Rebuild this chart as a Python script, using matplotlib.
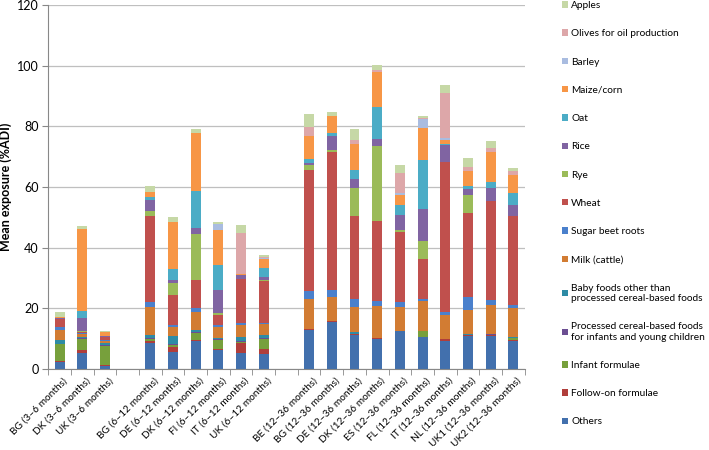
import numpy as np
import matplotlib
matplotlib.use('Agg')
import matplotlib.pyplot as plt

plt.rcParams['font.family'] = ['Lato', 'DejaVu Sans']

# Bars (x labels); None marks an empty slot between age groups
labels = ['BG (3–6 months)', 'DK (3–6 months)', 'UK (3–6 months)', None,
          'BG (6–12 months)', 'DE (6–12 months)', 'DK (6–12 months)', 'FI (6–12 months)',
          'IT (6–12 months)', 'UK (6–12 months)', None,
          'BE (12–36 months)', 'BG (12–36 months)', 'DE (12–36 months)', 'DK (12–36 months)',
          'ES (12–36 months)', 'FL (12–36 months)', 'IT (12–36 months)', 'NL (12–36 months)',
          'UK1 (12–36 months)', 'UK2 (12–36 months)']

# Series, bottom to top of the stack (values per bar, %ADI)
others = [2.2, 5.2, 1.1, 8.7, 5.6, 9.1, 6.1, 5.4, 4.9, 13.0, 15.4, 11.3, 9.9, 12.4, 10.5, 9.3, 11.0, 11.0, 9.1]
follow_on = [0.4, 0.9, 0.3, 0.5, 1.8, 0.5, 0.5, 3.3, 1.7, 0.2, 0.3, 0.2, 0.2, 0.2, 0.2, 0.6, 0.2, 0.3, 0.5]
infant = [5.5, 3.7, 6.3, 0.6, 0.6, 2.2, 3.0, 0.2, 3.2, 0, 0, 0, 0, 0, 1.7, 0, 0, 0, 0.5]
processed = [0.3, 0.4, 0.3, 0.4, 0.3, 0.4, 0.2, 0.2, 0.3, 0, 0, 0, 0, 0, 0, 0, 0, 0.2, 0.2]
baby_foods = [1.1, 0.5, 0.5, 1.1, 2.7, 0.7, 0.4, 1.3, 1.0, 0, 0, 0.6, 0, 0, 0, 0, 0.2, 0.2, 0.4]
milk = [3.3, 0.9, 0.6, 9.2, 2.7, 6.0, 3.8, 4.0, 3.6, 10.0, 8.0, 8.3, 10.6, 7.8, 9.9, 8.0, 8.1, 9.3, 9.3]
sugar_beet = [0.9, 0.4, 0.5, 1.7, 0.7, 1.1, 0.5, 0.8, 0.6, 2.6, 2.2, 2.8, 1.6, 1.6, 0.9, 0.9, 4.3, 1.8, 1.1]
wheat = [2.8, 0.3, 0.8, 28.1, 10.0, 9.5, 3.3, 14.6, 13.7, 39.9, 45.5, 27.3, 26.4, 23.1, 13.2, 49.3, 27.6, 32.7, 29.4]
rye = [0, 0.3, 0, 1.7, 4.0, 15.1, 0.8, 0, 0.2, 1.4, 0.9, 9.0, 24.7, 0.8, 5.7, 0, 6.1, 0, 0]
rice = [0.3, 4.2, 0.4, 3.7, 1.1, 2.0, 7.4, 1.2, 1.2, 0.9, 4.4, 3.2, 2.5, 5.0, 10.6, 5.9, 1.8, 4.0, 3.5]
oat = [0, 2.2, 0.2, 1.1, 3.6, 12.2, 8.2, 0, 3.0, 1.3, 1.1, 3.0, 10.5, 3.3, 16.3, 0.2, 0.9, 2.0, 4.0]
maize = [0.2, 27.3, 1.1, 1.5, 15.5, 19.1, 11.5, 0.3, 2.9, 7.4, 5.5, 8.6, 11.4, 3.3, 10.5, 1.2, 5.2, 10.0, 6.1]
barley = [0, 0, 0, 0, 0, 0, 2.2, 0, 0.2, 0, 0, 0, 0, 0.5, 3.0, 0.8, 0, 0, 0]
olives = [0, 0, 0, 0, 0, 0, 0, 13.4, 0.3, 3.0, 0.2, 1.3, 0.6, 6.6, 0.2, 14.8, 1.2, 1.5, 1.3]
apples = [1.9, 0.8, 0.5, 2.1, 1.5, 1.1, 0.4, 2.7, 0.7, 4.5, 1.3, 3.6, 1.8, 2.8, 0.6, 2.7, 3.0, 2.0, 0.9]

series = [
    ('Others', others, '#4270AD'),
    ('Follow-on formulae', follow_on, '#B03E3B'),
    ('Infant formulae', infant, '#77A03C'),
    ('Processed cereal-based foods\nfor infants and young children', processed, '#6B4E92'),
    ('Baby foods other than\nprocessed cereal-based foods', baby_foods, '#2E8BA5'),
    ('Milk (cattle)', milk, '#D27C33'),
    ('Sugar beet roots', sugar_beet, '#4A80CC'),
    ('Wheat', wheat, '#C0504D'),
    ('Rye', rye, '#9BBB59'),
    ('Rice', rice, '#8064A2'),
    ('Oat', oat, '#4BACC6'),
    ('Maize/corn', maize, '#F79646'),
    ('Barley', barley, '#A9BCE0'),
    ('Olives for oil production', olives, '#DDA7A9'),
    ('Apples', apples, '#C6D8A6'),
]

x = np.array([i for i, l in enumerate(labels) if l is not None])

fig = plt.figure(figsize=(7.09, 4.5), dpi=100)
ax = fig.add_axes([0.068, 0.18, 0.672, 0.809])

bottom = np.zeros(len(x))
handles = []
for name, vals, color in series:
    vals = np.array(vals, dtype=float)
    h = ax.bar(x, vals, width=0.44, bottom=bottom, color=color, label=name, linewidth=0)
    handles.append(h)
    bottom += vals

ax.set_xlim(-0.5, len(labels) - 0.5)
ax.set_ylim(0, 120)
ax.set_yticks(range(0, 121, 20))
ax.yaxis.grid(True, color='#BFBFBF', linewidth=0.9)
ax.set_axisbelow(True)
for s in ['top', 'right']:
    ax.spines[s].set_visible(False)
for s in ['left', 'bottom']:
    ax.spines[s].set_color('#888888')

ax.set_xticks(x + 0.15)
ax.set_xticklabels([l for l in labels if l is not None], rotation=45, ha='right',
                   va='top', rotation_mode='anchor', fontsize=7.3)
ax.tick_params(axis='x', length=0, pad=5)
ax.set_xticks(np.arange(-0.5, len(labels)), minor=True)
ax.tick_params(axis='x', which='minor', length=4, color='#888888')
ax.tick_params(axis='y', length=4, color='#888888', labelsize=9, pad=3)

ax.set_ylabel('Mean exposure (%ADI)', fontsize=9, fontweight='bold')
ax.yaxis.set_label_coords(-0.075, 0.5)

leg = ax.legend(handles[::-1], [s[0] for s in series][::-1], loc='upper left',
                bbox_to_anchor=(1.07, 1.022), frameon=False, fontsize=7.3,
                handlelength=0.6, handleheight=0.6, handletextpad=0.3,
                labelspacing=1.9, borderaxespad=0)

fig.savefig('out.png', dpi=100, facecolor='white')
